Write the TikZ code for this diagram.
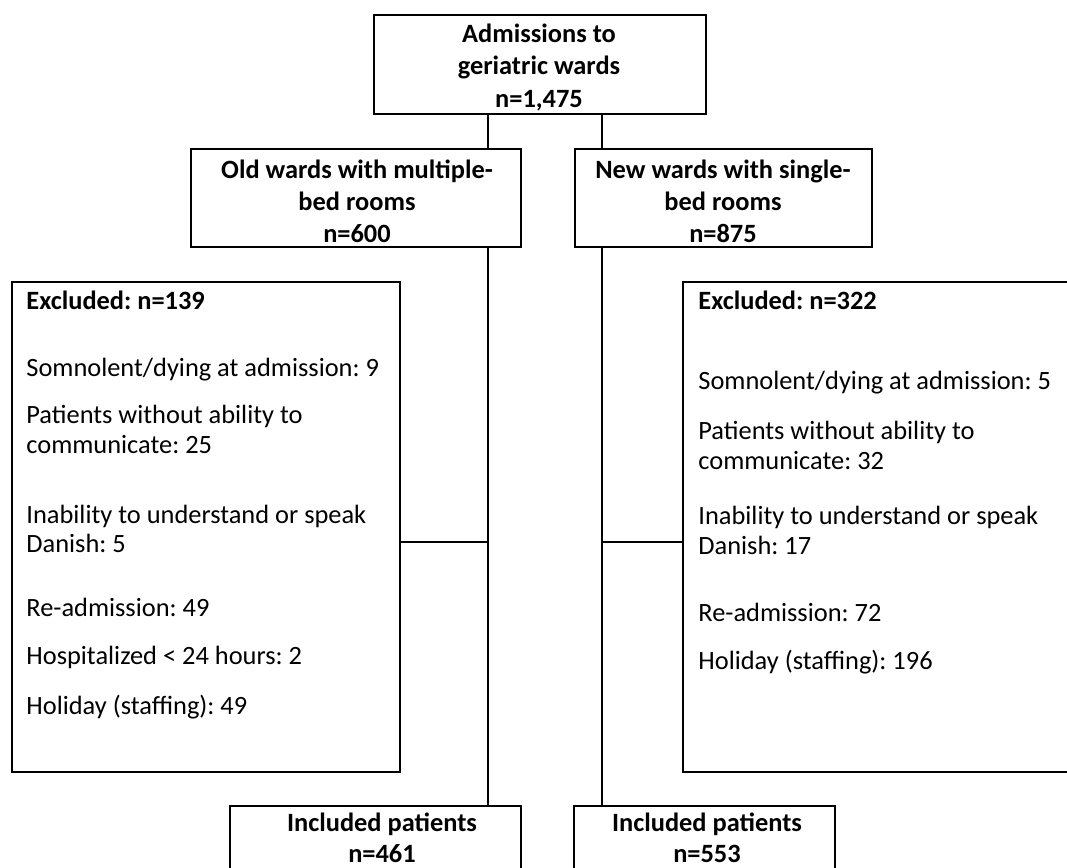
\documentclass[tikz,border=0pt]{standalone}
\usepackage{fontspec}
\setmainfont{Carlito}
\frenchspacing
\begin{document}
\begin{tikzpicture}[x=0.5pt,y=-0.5pt,
  box/.style={draw=black,line width=0.9pt,fill=none,inner sep=0pt,outer sep=0pt},
  link/.style={draw=black,line width=0.9pt},
  txt/.style={anchor=base west,inner sep=0pt,font=\fontsize{13.2pt}{16pt}\selectfont},
  btxt/.style={anchor=base west,inner sep=0pt,font=\fontsize{13.2pt}{16pt}\selectfont\bfseries},
  ctxt/.style={anchor=base,inner sep=0pt,font=\fontsize{13.2pt}{16pt}\selectfont\bfseries}]
\useasboundingbox (0,0) rectangle (1067,868);
\clip (0,0) rectangle (1067,868);
% boxes
\node[box,minimum width=166pt,minimum height=49.5pt] (top) at (540,64.5) {};
\node[box,minimum width=165pt,minimum height=49pt] (old) at (356,198) {};
\node[box,minimum width=148.5pt,minimum height=49pt] (new) at (723.5,198) {};
\node[box,minimum width=194pt,minimum height=245pt] (exL) at (206,527) {};
\node[box,minimum width=203.5pt,minimum height=245pt] (exR) at (886.5,527) {};
\node[box,minimum width=145.5pt,minimum height=47pt] (inL) at (375.5,853) {};
\node[box,minimum width=130.5pt,minimum height=47pt] (inR) at (704.5,853) {};
% junctions
\coordinate (jL) at (488,542);
\coordinate (jR) at (602,542);
% connectors
\draw[link] (top.south -| jL) -- (old.north -| jL);
\draw[link] (top.south -| jR) -- (new.north -| jR);
\draw[link] (old.south -| jL) -- (inL.north -| jL);
\draw[link] (new.south -| jR) -- (inR.north -| jR);
\draw[link] (exL.east |- jL) -- (jL);
\draw[link] (jR) -- (exR.west |- jR);
% top box text
\node[ctxt] (t1) at (539,42) {Admissions to};
\node[ctxt] (t2) at (539,74) {geriatric wards};
\node[ctxt] (t3) at (539,107) {n=1,475};
% old wards
\node[ctxt] (o1) at (357,178) {Old wards with multiple-};
\node[ctxt] (o2) at (357,210) {bed rooms};
\node[ctxt] (o3) at (357,242) {n=600};
% new wards
\node[ctxt] (n1) at (723,178) {New wards with single-};
\node[ctxt] (n2) at (723,210) {bed rooms};
\node[ctxt] (n3) at (723,242) {n=875};
% left excluded
\node[btxt] (l0) at (26,309) {Excluded: n=139};
\node[txt] (l1) at (26,376) {Somnolent/dying at admission: 9};
\node[txt] (l2) at (26,423) {Patients without ability to};
\node[txt] (l3) at (26,453) {communicate: 25};
\node[txt] (l4) at (26,523) {Inability to understand or speak};
\node[txt] (l5) at (26,552) {Danish: 5};
\node[txt] (l6) at (26,616) {Re-admission: 49};
\node[txt] (l7) at (26,664) {Hospitalized < 24 hours: 2};
\node[txt] (l8) at (26,714) {Holiday (staffing): 49};
% right excluded
\node[btxt] (r0) at (698,309) {Excluded: n=322};
\node[txt] (r1) at (698,389) {Somnolent/dying at admission: 5};
\node[txt] (r2) at (698,439) {Patients without ability to};
\node[txt] (r3) at (698,469) {communicate: 32};
\node[txt] (r4) at (698,524) {Inability to understand or speak};
\node[txt] (r5) at (698,554) {Danish: 17};
\node[txt] (r6) at (698,621) {Re-admission: 72};
\node[txt] (r7) at (698,669) {Holiday (staffing): 196};
% included
\node[ctxt] (i1) at (382,831) {Included patients};
\node[ctxt] (i2) at (382,862) {n=461};
\node[ctxt] (j1) at (707,831) {Included patients};
\node[ctxt] (j2) at (707,862) {n=553};
\end{tikzpicture}
\end{document}
